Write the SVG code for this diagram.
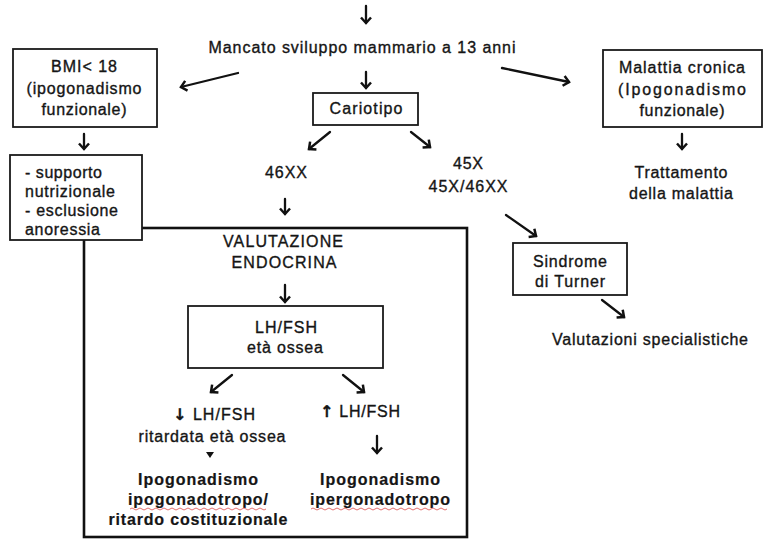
<svg xmlns="http://www.w3.org/2000/svg" width="765" height="540" viewBox="0 0 765 540">
<style>
text{font-family:"Liberation Sans",Arial,sans-serif;font-size:16px;fill:#151515;stroke:#151515;stroke-width:0.35}
.c{text-anchor:middle}
.b{font-weight:bold;stroke-width:0.2}
.g{font-family:"DejaVu Sans",sans-serif;font-size:16px;font-weight:bold}
.box{fill:#fff;stroke:#1a1a1a;stroke-width:1.8}
.big{fill:none;stroke:#111;stroke-width:2.6}
.arr{fill:none;stroke:#111;stroke-width:2.3;stroke-linecap:round;marker-end:url(#ah)}
.sq{fill:none;stroke:#e06060;stroke-width:0.9}
</style>
<defs>
<marker id="ah" markerUnits="userSpaceOnUse" markerWidth="14" markerHeight="14" refX="7" refY="7" orient="auto" viewBox="0 0 14 14">
<path d="M1.5,2 L7,7 L1.5,12" fill="none" stroke="#111" stroke-width="2.5" stroke-linejoin="miter"/>
</marker>
</defs>
<rect class="big" x="84" y="228" width="383" height="309"/>
<g id="connectors">
<line class="arr" x1="366" y1="6" x2="366" y2="23"/>
<line class="arr" x1="366" y1="72" x2="366" y2="88"/>
<line class="arr" x1="238" y1="73" x2="181" y2="87"/>
<line class="arr" x1="502" y1="68" x2="569" y2="82"/>
<line class="arr" x1="84" y1="134" x2="84" y2="149"/>
<line class="arr" x1="682" y1="134" x2="682" y2="149"/>
<line class="arr" x1="330" y1="132" x2="309" y2="149"/>
<line class="arr" x1="411" y1="132" x2="430" y2="147"/>
<line class="arr" x1="285" y1="199" x2="285" y2="214"/>
<line class="arr" x1="506" y1="215" x2="536" y2="236"/>
<line class="arr" x1="602" y1="300" x2="624" y2="317"/>
<line class="arr" x1="285" y1="285" x2="285" y2="302"/>
<line class="arr" x1="232" y1="375" x2="211" y2="392"/>
<line class="arr" x1="343" y1="375" x2="364" y2="392"/>
<line class="arr" x1="377" y1="436" x2="377" y2="453"/>
<polygon points="206,452 214,452 210,458" fill="#111"/>
</g>
<g id="start">
<text class="c" x="362" y="53" textLength="307">Mancato sviluppo mammario a 13 anni</text>
</g>
<g id="bmi">
<rect class="box" x="13" y="49" width="144" height="78"/>
<text class="c" x="84" y="72" textLength="66">BMI&lt; 18</text>
<text class="c" x="84" y="94" textLength="115">(ipogonadismo</text>
<text class="c" x="84" y="115" textLength="85">funzionale)</text>
</g>
<g id="supporto">
<rect class="box" x="10" y="155" width="132" height="85"/>
<text x="25" y="178" textLength="77">- supporto</text>
<text x="25" y="197" textLength="90">nutrizionale</text>
<text x="25" y="216" textLength="93">- esclusione</text>
<text x="25" y="235" textLength="75">anoressia</text>
</g>
<g id="malattia">
<rect class="box" x="603" y="50" width="159" height="77"/>
<text class="c" x="682" y="73" textLength="126">Malattia cronica</text>
<text class="c" x="682" y="95" textLength="128">(Ipogonadismo</text>
<text class="c" x="682" y="116" textLength="85">funzionale)</text>
</g>
<g id="trattamento">
<text class="c" x="681" y="178" textLength="93">Trattamento</text>
<text class="c" x="681" y="199" textLength="104">della malattia</text>
</g>
<g id="cariotipo">
<rect class="box" x="313" y="93" width="105" height="32"/>
<text class="c" x="366" y="114" textLength="73">Cariotipo</text>
</g>
<g id="k46xx">
<text class="c" x="286" y="178" textLength="42">46XX</text>
</g>
<g id="k45x">
<text class="c" x="468" y="169" textLength="30">45X</text>
<text class="c" x="468" y="192" textLength="79">45X/46XX</text>
</g>
<g id="turner">
<rect class="box" x="513" y="243" width="114" height="52"/>
<text class="c" x="570" y="267" textLength="74">Sindrome</text>
<text class="c" x="570" y="287" textLength="70">di Turner</text>
</g>
<g id="valutazioni">
<text class="c" x="650" y="345" textLength="196">Valutazioni specialistiche</text>
</g>
<g id="endocrina">
<text class="c" x="283" y="247" textLength="120">VALUTAZIONE</text>
<text class="c" x="284" y="268" textLength="105">ENDOCRINA</text>
</g>
<g id="lhfsh">
<rect class="box" x="188" y="306" width="195" height="62"/>
<text class="c" x="286" y="333" textLength="62">LH/FSH</text>
<text class="c" x="285" y="353" textLength="76">età ossea</text>
</g>
<g id="basso">
<text class="c" x="214" y="420" textLength="82"><tspan class="g">↓</tspan> LH/FSH</text>
<text class="c" x="212" y="442" textLength="147">ritardata età ossea</text>
</g>
<g id="alto">
<text class="c" x="360" y="417" textLength="80"><tspan class="g">↑</tspan> LH/FSH</text>
</g>
<g id="ipogonadotropo">
<text class="c b" x="198" y="485" textLength="120">Ipogonadismo</text>
<text class="c b" x="198" y="505" textLength="140">ipogonadotropo/</text>
<text class="c b" x="198" y="525" textLength="179">ritardo costituzionale</text>
<path class="sq" d="M130,509 q2,-2 4,0 t4,0 t4,0 t4,0 t4,0 t4,0 t4,0 t4,0 t4,0 t4,0 t4,0 t4,0 t4,0 t4,0 t4,0 t4,0 t4,0 t4,0 t4,0 t4,0 t4,0 t4,0 t4,0 t4,0 t4,0 t4,0 t4,0 t4,0 t4,0 t4,0 t4,0 t4,0 t4,0 t4,0"/>
</g>
<g id="ipergonadotropo">
<text class="c b" x="380" y="485" textLength="120">Ipogonadismo</text>
<text class="c b" x="380" y="505" textLength="140">ipergonadotropo</text>
<path class="sq" d="M311,509 q2,-2 4,0 t4,0 t4,0 t4,0 t4,0 t4,0 t4,0 t4,0 t4,0 t4,0 t4,0 t4,0 t4,0 t4,0 t4,0 t4,0 t4,0 t4,0 t4,0 t4,0 t4,0 t4,0 t4,0 t4,0 t4,0 t4,0 t4,0 t4,0 t4,0 t4,0 t4,0 t4,0 t4,0 t4,0"/>
</g>
</svg>
